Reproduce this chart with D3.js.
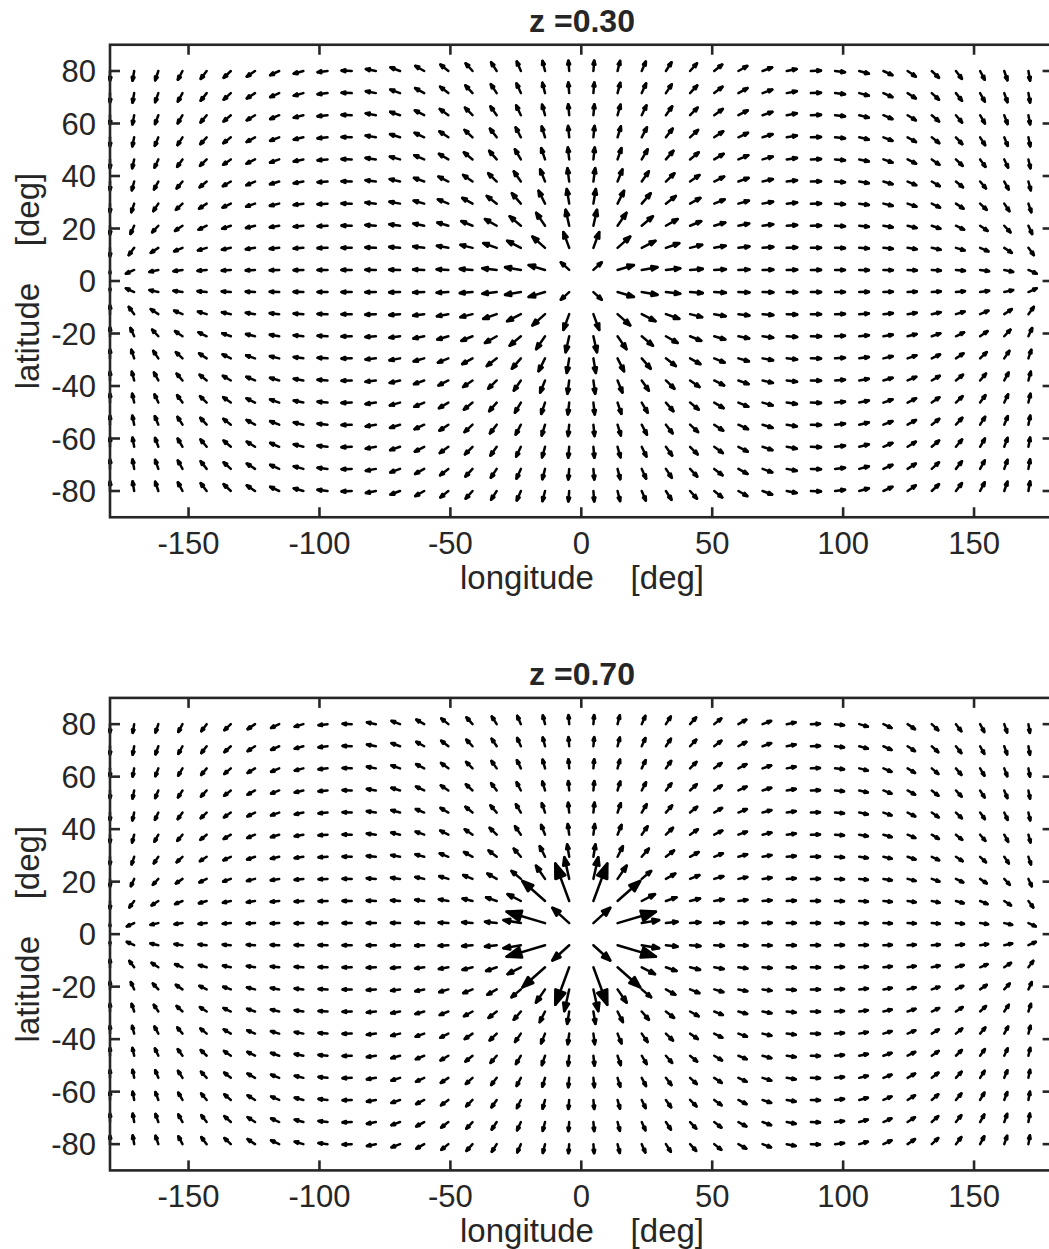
<!DOCTYPE html>
<html>
<head>
<meta charset="utf-8">
<script src="https://cdn.jsdelivr.net/npm/d3@7"></script>
<style>
  html, body { margin: 0; padding: 0; background: #fff; }
  svg { display: block; }
  text { font-family: "Liberation Sans", Arial, Helvetica, sans-serif; fill: #262626; }
</style>
</head>
<body>
<svg id="chart" width="1049" height="1249"></svg>
<script>
// ---------------- data ----------------
const lonGrid = [-180, -170.77, -161.54, -152.31, -143.08, -133.85, -124.62, -115.38, -106.15, -96.92,
  -87.69, -78.46, -69.23, -60.00, -50.77, -41.54, -32.31, -23.08, -13.85, -4.62,
  4.62, 13.85, 23.08, 32.31, 41.54, 50.77, 60.00, 69.23, 78.46, 87.69,
  96.92, 106.15, 115.38, 124.62, 133.85, 143.08, 152.31, 161.54, 170.77, 180];
const latGrid = [-80, -71.58, -63.16, -54.74, -46.32, -37.89, -29.47, -21.05, -12.63, -4.21,
  4.21, 12.63, 21.05, 29.47, 37.89, 46.32, 54.74, 63.16, 71.58, 80];

const thetaDeg     = [0, 6, 10, 14, 18, 23, 28, 35, 45, 60, 90, 130, 170, 180];
const magnitudeZ03 = [0, 11, 15, 17, 17, 16, 15, 14, 12, 11, 10, 9, 9, 0];
const magnitudeZ07 = [0, 22, 33, 41, 32, 18, 13, 11, 10, 9, 9, 8, 8, 0];

const panels = [
  { title: "z =0.30", magnitude: magnitudeZ03 },
  { title: "z =0.70", magnitude: magnitudeZ07 }
];

const xTicks = [-150, -100, -50, 0, 50, 100, 150];
const yTicks = [-80, -60, -40, -20, 0, 20, 40, 60, 80];

// ---------------- layout ----------------
const svg = d3.select("#chart");
const axLeft = 110, axRight = 1052.6;
const panelTops = [44.75, 697.9];
const axH = 472.5;
const tickLen = 10;
const axisColor = "#262626";
const toRad = Math.PI / 180;

panels.forEach((p, pi) => {
  const top = panelTops[pi];
  const x = d3.scaleLinear().domain([-180, 180]).range([axLeft, axRight]);
  const y = d3.scaleLinear().domain([-90, 90]).range([top + axH, top]);
  const len = d3.scaleLinear().domain(thetaDeg).range(p.magnitude).clamp(true);

  const g = svg.append("g");
  const clipId = "clip" + pi;
  svg.append("clipPath").attr("id", clipId).append("rect")
    .attr("x", axLeft - 2).attr("y", top - 2)
    .attr("width", axRight - axLeft + 4).attr("height", axH + 4);

  const arrows = [];
  latGrid.forEach(lat => lonGrid.forEach(lon => {
    const u = Math.sin(lon * toRad);
    const v = Math.sin(lat * toRad) * Math.cos(lon * toRad);
    const cosT = Math.cos(lat * toRad) * Math.cos(lon * toRad);
    const th = Math.acos(Math.max(-1, Math.min(1, cosT))) / toRad;
    const n = Math.hypot(u, v);
    if (n < 1e-9) return;
    arrows.push({ lon, lat, ux: u / n, uy: -v / n, L: len(th) });
  }));

  const ag = g.append("g").attr("clip-path", `url(#${clipId})`);
  arrows.forEach(a => {
    const x0 = x(a.lon), y0 = y(a.lat);
    const dx = a.ux * a.L, dy = a.uy * a.L;
    const x1 = x0 + dx, y1 = y0 + dy;
    const alpha = 0.36, beta = 0.36;
    const h1x = x1 - alpha * (dx + beta * dy), h1y = y1 - alpha * (dy - beta * dx);
    const h2x = x1 - alpha * (dx - beta * dy), h2y = y1 - alpha * (dy + beta * dx);
    ag.append("line")
      .attr("x1", x0).attr("y1", y0).attr("x2", x1).attr("y2", y1)
      .attr("stroke", "#000").attr("stroke-width", 2.5).attr("stroke-linecap", "round");
    ag.append("path")
      .attr("d", `M${h1x},${h1y}L${x1},${y1}L${h2x},${h2y}Z`)
      .attr("fill", "#000").attr("stroke", "#000").attr("stroke-width", 2.8)
      .attr("stroke-linejoin", "round");
  });

  g.append("rect").attr("x", axLeft).attr("y", top)
    .attr("width", axRight - axLeft).attr("height", axH)
    .attr("fill", "none").attr("stroke", axisColor).attr("stroke-width", 2.6);

  xTicks.forEach(t => {
    const xx = x(t);
    g.append("line").attr("x1", xx).attr("x2", xx).attr("y1", top + axH).attr("y2", top + axH - tickLen)
      .attr("stroke", axisColor).attr("stroke-width", 2.6);
    g.append("line").attr("x1", xx).attr("x2", xx).attr("y1", top).attr("y2", top + tickLen)
      .attr("stroke", axisColor).attr("stroke-width", 2.6);
    g.append("text").attr("x", xx).attr("y", top + axH + 37)
      .attr("text-anchor", "middle").attr("font-size", 31).text(t);
  });
  yTicks.forEach(t => {
    const yy = y(t);
    g.append("line").attr("x1", axLeft).attr("x2", axLeft + tickLen).attr("y1", yy).attr("y2", yy)
      .attr("stroke", axisColor).attr("stroke-width", 2.6);
    g.append("line").attr("x1", axRight).attr("x2", axRight - tickLen).attr("y1", yy).attr("y2", yy)
      .attr("stroke", axisColor).attr("stroke-width", 2.6);
    g.append("text").attr("x", axLeft - 14).attr("y", yy + 11)
      .attr("text-anchor", "end").attr("font-size", 31).text(t);
  });

  g.append("text").attr("x", 582).attr("y", top + axH + 72)
    .attr("text-anchor", "middle").attr("font-size", 33)
    .style("white-space", "pre").text("longitude    [deg]");
  g.append("text")
    .attr("transform", `translate(39,${top + axH / 2}) rotate(-90)`)
    .attr("text-anchor", "middle").attr("font-size", 33)
    .style("white-space", "pre").text("latitude    [deg]");
  g.append("text").attr("x", 582).attr("y", top - 13)
    .attr("text-anchor", "middle").attr("font-size", 32).attr("font-weight", "bold")
    .style("white-space", "pre").text(p.title);
});
</script>
</body>
</html>
